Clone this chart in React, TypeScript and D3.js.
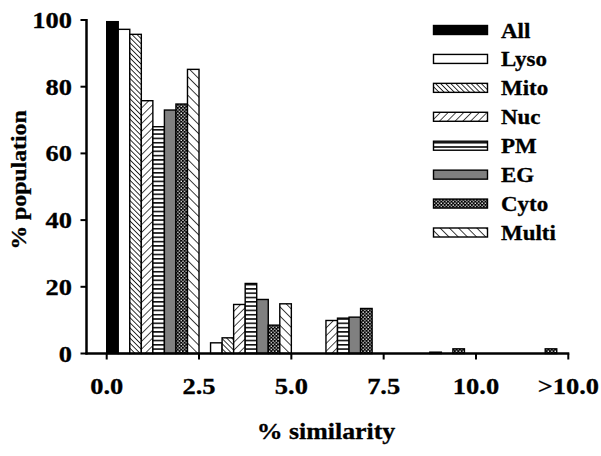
import React from "react";
import * as d3 from "d3";

const groups = ["0.0", "2.5", "5.0", "7.5", "10.0", ">10.0"];
const seriesNames = ["All", "Lyso", "Mito", "Nuc", "PM", "EG", "Cyto", "Multi"];
const All = [99.5, 0, 0, 0, 0];
const Lyso = [97.2, 3.2, 0, 0, 0];
const Mito = [95.7, 4.7, 0, 0, 0];
const Nuc = [75.8, 14.7, 9.9, 0, 0];
const PM = [68, 21, 10.6, 0.4, 0];
const EG = [73, 16.2, 10.9, 0, 0];
const Cyto = [74.8, 8.5, 13.5, 1.4, 1.4];
const Multi = [85.2, 14.9, 0, 0, 0];
const seriesValues = [All, Lyso, Mito, Nuc, PM, EG, Cyto, Multi];
const yTicks = [0, 20, 40, 60, 80, 100];

const fills = [
  "#000",
  "#fff",
  "url(#pMito)",
  "url(#pNuc)",
  "url(#pPM)",
  "#808080",
  "url(#pCyto)",
  "url(#pMulti)",
];

const FONT = "'Liberation Serif', 'Times New Roman', serif";

function T({ x, y, size, anchor = "middle", sx = 1.15, rotate = 0, children }: any) {
  return (
    <text
      transform={`translate(${x},${y}) rotate(${rotate}) scale(${sx},1)`}
      fontFamily={FONT}
      fontWeight="bold"
      fontSize={size}
      textAnchor={anchor}
      fill="#000"
      stroke="#000"
      strokeWidth={0.3}
    >
      {children}
    </text>
  );
}

export default function App() {
  const W = 601, H = 456;
  const x0 = 86.5;
  const y = d3.scaleLinear().domain([0, 100]).range([353.5, 20]);
  const xt = d3.scaleLinear().domain([0, 5]).range([106.7, 568.3]);
  const inner = d3.scaleBand().domain(seriesNames).range([0, xt(1) - xt(0)]).padding(0);

  const legendY = d3.scaleLinear().domain([0, 7]).range([30, 232.5]);

  return (
    <svg width={W} height={H} style={{ position: "absolute", left: 0, top: 0, background: "#fff" }}>
      <defs>
        <pattern id="pMito" width="3.6" height="3.6" patternUnits="userSpaceOnUse" patternTransform="rotate(-45)">
          <rect width="3.6" height="3.6" fill="#fff" />
          <line x1="0" y1="0" x2="0" y2="3.6" stroke="#000" strokeWidth="1.6" />
        </pattern>
        <pattern id="pNuc" width="5.5" height="5.5" patternUnits="userSpaceOnUse" patternTransform="rotate(45)">
          <rect width="5.5" height="5.5" fill="#fff" />
          <line x1="0" y1="0" x2="0" y2="5.5" stroke="#000" strokeWidth="1.4" />
        </pattern>
        <pattern id="pPM" width="4.3" height="4.3" patternUnits="userSpaceOnUse">
          <rect width="4.3" height="4.3" fill="#fff" />
          <line x1="0" y1="0.8" x2="4.3" y2="0.8" stroke="#000" strokeWidth="1.5" />
        </pattern>
        <pattern id="pCyto" width="3.4" height="3.4" patternUnits="userSpaceOnUse">
          <rect width="3.4" height="3.4" fill="#000" />
          <rect x="0.4" y="0.4" width="1.3" height="1.3" fill="#fff" />
          <rect x="2.1" y="2.1" width="1.3" height="1.3" fill="#fff" />
        </pattern>
        <pattern id="pMulti" width="6.5" height="6.5" patternUnits="userSpaceOnUse" patternTransform="rotate(-45)">
          <rect width="6.5" height="6.5" fill="#fff" />
          <line x1="0" y1="0" x2="0" y2="6.5" stroke="#000" strokeWidth="1.5" />
        </pattern>
      </defs>

      {/* bars */}
      {seriesValues.map((vals, si) =>
        vals.map((v, gi) =>
          v > 0 ? (
            <rect
              key={`${si}-${gi}`}
              x={xt(gi) + (inner(seriesNames[si]) as number)}
              y={y(v)}
              width={inner.bandwidth()}
              height={y(0) - y(v)}
              fill={fills[si]}
              stroke="#000"
              strokeWidth={1.4}
            />
          ) : null
        )
      )}

      {/* y axis */}
      <line x1={x0} x2={x0} y1={y(100) - 1} y2={y(0) + 1} stroke="#000" strokeWidth={2.5} />
      {yTicks.map((t) => (
        <g key={t}>
          <line x1={x0 - 6} x2={x0} y1={y(t)} y2={y(t)} stroke="#000" strokeWidth={2} />
          <T x={72} y={y(t) + 8} size={23} anchor="end">{t}</T>
        </g>
      ))}

      {/* x axis */}
      <line x1={x0 - 1} x2={xt(5) + 1} y1={y(0)} y2={y(0)} stroke="#000" strokeWidth={2.5} />
      {groups.map((g, i) => (
        <g key={g}>
          <line x1={xt(i)} x2={xt(i)} y1={y(0)} y2={y(0) + 6} stroke="#000" strokeWidth={2} />
          <T x={xt(i)} y={394} size={23}>{g}</T>
        </g>
      ))}

      {/* axis titles */}
      <T x={326} y={439} size={23.5} sx={1.1}>% similarity</T>
      <T x={26} y={180} size={22} sx={1.08} rotate={-90}>% population</T>

      {/* legend */}
      {seriesNames.map((n, i) => (
        <g key={n}>
          <rect x={433.5} y={legendY(i) - 4.5} width={54} height={9} fill={fills[i]} stroke="#000" strokeWidth={1.4} />
          <T x={501} y={legendY(i) + 7.5} size={20.5} sx={1.12} anchor="start">{n}</T>
        </g>
      ))}
    </svg>
  );
}
